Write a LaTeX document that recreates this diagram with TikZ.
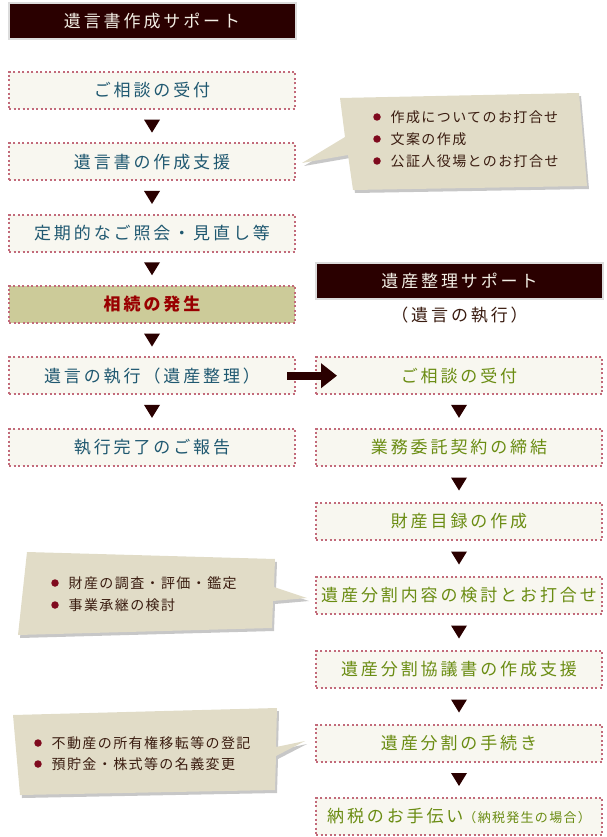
\documentclass[tikz,border=0pt]{standalone}
\usepackage{fontspec}
\usepackage{xcolor}
\usepackage{tikz}
\usetikzlibrary{arrows.meta, positioning, calc}

\newfontfamily\jpfont[LetterSpace=17]{Noto Sans CJK JP}
\newfontfamily\jpnote[LetterSpace=10]{Noto Sans CJK JP}

\definecolor{darkmaroon}{HTML}{2A0000}
\definecolor{headborder}{HTML}{DCDCDC}
\definecolor{headtext}{HTML}{F2EEE4}
\definecolor{dotrose}{HTML}{C26A7A}
\definecolor{boxfill}{HTML}{F8F7F0}
\definecolor{willtext}{HTML}{1F5870}
\definecolor{estatetext}{HTML}{6A8C12}
\definecolor{eventfill}{HTML}{CCCB99}
\definecolor{eventtext}{HTML}{990000}
\definecolor{notefill}{HTML}{E1DCC7}
\definecolor{notetext}{HTML}{3A1C10}
\definecolor{bulletred}{HTML}{7F0A1E}

\begin{document}
\begin{tikzpicture}[x=1pt, y=-1pt]
    \tikzstyle{head} = [
        rectangle, text centered, draw=headborder, line width=2pt,
        fill=darkmaroon, text=headtext, inner sep=0pt,
        minimum width=287pt, minimum height=36pt,
        font=\jpfont\fontsize{17}{17}\selectfont
    ]

    \tikzstyle{flow_box} = [
        rectangle, text centered, draw=dotrose, line width=2pt,
        dash pattern=on 2pt off 2.5pt, fill=boxfill, inner sep=0pt,
        minimum width=286pt, minimum height=37pt,
        font=\jpfont\fontsize{17}{17}\selectfont
    ]

    \tikzstyle{will_box} = [flow_box, text=willtext]
    \tikzstyle{estate_box} = [flow_box, text=estatetext]
    \tikzstyle{event_box} = [flow_box, fill=eventfill, text=eventtext,
        font=\jpfont\bfseries\fontsize{17}{17}\selectfont]

    \tikzstyle{tri} = [fill=darkmaroon]
    \tikzstyle{big_arrow} = [
        draw=darkmaroon, line width=8pt,
        -{Triangle[length=16pt, width=24pt]}
    ]

    \tikzstyle{callout} = [fill=notefill]
    \tikzstyle{callout_shadow} = [fill=black!22]
    \tikzstyle{bullet} = [circle, fill=bulletred, inner sep=0pt, minimum size=7.5pt]
    \tikzstyle{note} = [
        anchor=west, inner sep=0pt, text=notetext,
        font=\jpnote\fontsize{14}{14}\selectfont
    ]

    \useasboundingbox (0,0) rectangle (606,837);

    % Will column
    \node[head] (will_head) at (152,21) {遺言書作成サポート};
    \node[will_box, below=31pt of will_head] (will_1) {ご相談の受付};
    \node[will_box, below=32.3pt of will_1] (will_2) {遺言書の作成支援};
    \node[will_box, below=32.3pt of will_2] (will_3) {定期的なご照会・見直し等};
    \node[event_box, below=32.3pt of will_3] (will_4) {相続の発生};
    \node[will_box, below=32.3pt of will_4] (will_5) {遺言の執行（遺産整理）};
    \node[will_box, below=32.3pt of will_5] (will_6) {執行完了のご報告};

    \fill[tri] ($(will_1.south)!.5!(will_2.north)$) +(-8,-6.5) -- +(8,-6.5) -- +(0,6.5) -- cycle;
    \fill[tri] ($(will_2.south)!.5!(will_3.north)$) +(-8,-6.5) -- +(8,-6.5) -- +(0,6.5) -- cycle;
    \fill[tri] ($(will_3.south)!.5!(will_4.north)$) +(-8,-6.5) -- +(8,-6.5) -- +(0,6.5) -- cycle;
    \fill[tri] ($(will_4.south)!.5!(will_5.north)$) +(-8,-6.5) -- +(8,-6.5) -- +(0,6.5) -- cycle;
    \fill[tri] ($(will_5.south)!.5!(will_6.north)$) +(-8,-6.5) -- +(8,-6.5) -- +(0,6.5) -- cycle;

    % Estate column
    \node[head] (estate_head) at (459.5,281) {遺産整理サポート};
    \node[below=3pt of estate_head, text=notetext,
        font=\jpfont\fontsize{17}{17}\selectfont] (estate_sub) {（遺言の執行）};
    \node[estate_box, right=19pt of will_5] (estate_1) {ご相談の受付};
    \node[estate_box, below=32.3pt of estate_1] (estate_2) {業務委託契約の締結};
    \node[estate_box, below=35pt of estate_2] (estate_3) {財産目録の作成};
    \node[estate_box, below=35pt of estate_3] (estate_4) {遺産分割内容の検討とお打合せ};
    \node[estate_box, below=35pt of estate_4] (estate_5) {遺産分割協議書の作成支援};
    \node[estate_box, below=35pt of estate_5] (estate_6) {遺産分割の手続き};
    \node[estate_box, below=34pt of estate_6] (estate_7) {%
        納税のお手伝い{\jpnote\fontsize{13}{13}\selectfont（納税発生の場合）}};

    \fill[tri] ($(estate_1.south)!.5!(estate_2.north)$) +(-8,-6.5) -- +(8,-6.5) -- +(0,6.5) -- cycle;
    \fill[tri] ($(estate_2.south)!.5!(estate_3.north)$) +(-8,-6.5) -- +(8,-6.5) -- +(0,6.5) -- cycle;
    \fill[tri] ($(estate_3.south)!.5!(estate_4.north)$) +(-8,-6.5) -- +(8,-6.5) -- +(0,6.5) -- cycle;
    \fill[tri] ($(estate_4.south)!.5!(estate_5.north)$) +(-8,-6.5) -- +(8,-6.5) -- +(0,6.5) -- cycle;
    \fill[tri] ($(estate_5.south)!.5!(estate_6.north)$) +(-8,-6.5) -- +(8,-6.5) -- +(0,6.5) -- cycle;
    \fill[tri] ($(estate_6.south)!.5!(estate_7.north)$) +(-8,-6.5) -- +(8,-6.5) -- +(0,6.5) -- cycle;

    % Hand over from will to estate
    \draw[big_arrow] ([xshift=-9pt]will_5.east) -- ([xshift=22pt]estate_1.west);

    % Callout for drafting
    \fill[callout_shadow, xshift=2pt, yshift=-3pt]
        (340,98) -- (579,93) -- (587,186) -- (353,190) -- (348,155) -- (302,163) -- (345,137) -- cycle;
    \fill[callout]
        (340,98) -- (579,93) -- (587,186) -- (353,190) -- (348,155) -- (302,163) -- (345,137) -- cycle;
    \node[bullet] (dot_a1) at (377,117) {};
    \node[bullet] (dot_a2) at (377,139) {};
    \node[bullet] (dot_a3) at (377,161) {};
    \node[note, right=9.5pt of dot_a1] (note_a1) {作成についてのお打合せ};
    \node[note, right=9.5pt of dot_a2] (note_a2) {文案の作成};
    \node[note, right=9.5pt of dot_a3] (note_a3) {公証人役場とのお打合せ};

    % Callout for division
    \fill[callout_shadow, xshift=2pt, yshift=-3pt]
        (27,552) -- (275,559) -- (274,587) -- (307,598) -- (273,601) -- (272,628) -- (18,635) -- cycle;
    \fill[callout]
        (27,552) -- (275,559) -- (274,587) -- (307,598) -- (273,601) -- (272,628) -- (18,635) -- cycle;
    \node[bullet] (dot_b1) at (55,583) {};
    \node[bullet] (dot_b2) at (55,605) {};
    \node[note, right=9.5pt of dot_b1] (note_b1) {財産の調査・評価・鑑定};
    \node[note, right=9.5pt of dot_b2] (note_b2) {事業承継の検討};

    % Callout for procedures
    \fill[callout_shadow, xshift=2pt, yshift=-3pt]
        (13,715) -- (277,708) -- (276,747) -- (305,741) -- (276,756) -- (275,790) -- (20,795) -- cycle;
    \fill[callout]
        (13,715) -- (277,708) -- (276,747) -- (305,741) -- (276,756) -- (275,790) -- (20,795) -- cycle;
    \node[bullet] (dot_c1) at (38,743) {};
    \node[bullet] (dot_c2) at (38,764) {};
    \node[note, right=9.5pt of dot_c1] (note_c1) {不動産の所有権移転等の登記};
    \node[note, right=9.5pt of dot_c2] (note_c2) {預貯金・株式等の名義変更};

\end{tikzpicture}
\end{document}
